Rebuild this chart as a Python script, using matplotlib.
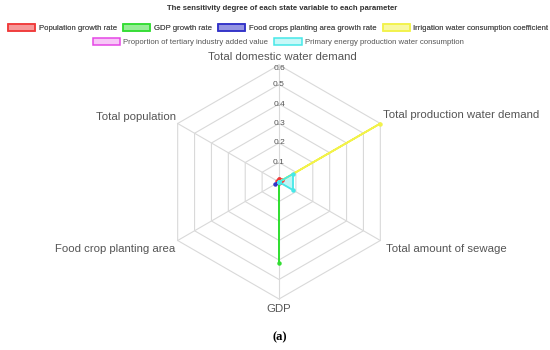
import numpy as np
import matplotlib
matplotlib.use("Agg")
import matplotlib.pyplot as plt
from matplotlib.patches import Patch

plt.rcParams['font.family'] = ['Liberation Sans', 'DejaVu Sans']

# indicators, clockwise from the top
indicators = ["Total domestic water demand", "Total production water demand",
              "Total amount of sewage", "GDP", "Food crop planting area",
              "Total population"]
r_max = 0.6
ticks = [0.1, 0.2, 0.3, 0.4, 0.5, 0.6]

series_names = ["Population growth rate", "GDP growth rate",
                "Food crops planting area growth rate",
                "Irrigation water consumption coefficient",
                "Proportion of tertiary industry added value",
                "Primary energy production water consumption"]
colors = ["#f03a3a", "#33dd33", "#3232c8", "#f2f24a", "#e546e5", "#46e8e8"]

pop_growth   = [0.015, 0.02, 0.005, 0.005, 0.005, 0.01]
gdp_growth   = [0.0, 0.0, 0.0, 0.415, 0.0, 0.0]
food_growth  = [0.0, 0.0, 0.0, 0.0, 0.025, 0.0]
irrigation   = [0.0, 0.6, 0.0, 0.0, 0.0, 0.0]
tertiary     = [0.0, 0.0, 0.0, 0.0, 0.0, 0.0]
energy_water = [0.0, 0.083, 0.083, 0.0, 0.0, 0.0]
series = [pop_growth, gdp_growth, food_growth, irrigation, tertiary, energy_water]

ang = np.deg2rad(90 - 60 * np.arange(len(indicators)))

fig = plt.figure(figsize=(5.5, 3.5), dpi=100)
ax = fig.add_axes([0, 0, 1, 1])
s = 117 / r_max  # px per unit
ax.set_xlim(-279 / s, 271 / s)
ax.set_ylim(-(350 - 182) / s, 182 / s)
ax.axis('off')

grid_c = "#d9d9d9"
# rings
for r in ticks:
    xs = np.append(r * np.cos(ang), r * np.cos(ang[0]))
    ys = np.append(r * np.sin(ang), r * np.sin(ang[0]))
    ax.plot(xs, ys, color=grid_c, lw=0.8, zorder=1)
# spokes
for a in ang:
    ax.plot([0, r_max * np.cos(a)], [0, r_max * np.sin(a)], color=grid_c, lw=0.8, zorder=1)

# tick labels on the top axis
for r in ticks:
    dy = -3 if r == r_max else 0
    ax.annotate("%.1f" % r, xy=(0, r), xytext=(0, dy), textcoords='offset pixels',
                ha='center', va='center', fontsize=6, color="#555555", zorder=2)

# indicator names
offs = [(3, 8, 'center'), (3, 8, 'left'), (6, -9, 'left'),
        (0, -10, 'center'), (-2, -8, 'right'), (-2, 6, 'right')]
for name, a, (dx, dy, ha) in zip(indicators, ang, offs):
    ax.annotate(name, xy=(r_max * np.cos(a), r_max * np.sin(a)), xytext=(dx, dy),
                textcoords='offset pixels', ha=ha, va='center', fontsize=8.2, color="#555555")

# series
for vals, c in zip(series, colors):
    v = np.array(vals)
    xs = np.append(v * np.cos(ang), v[0] * np.cos(ang[0]))
    ys = np.append(v * np.sin(ang), v[0] * np.sin(ang[0]))
    ax.fill(xs, ys, color=c, alpha=0.35, lw=0, zorder=3)
    ax.plot(xs, ys, color=c, lw=1.3, marker='o', ms=2.2, zorder=4)

# title and legend
fig.text(0.513, 1 - 8 / 350, "The sensitivity degree of each state variable to each parameter",
         ha='center', va='center', fontsize=5.6, fontweight='bold', color="#333333")
handles = [Patch(facecolor=matplotlib.colors.to_rgba(c, 0.3), edgecolor=c, lw=1.1) for c in colors]
kw = dict(frameon=False, fontsize=5.6, handlelength=3.5, handleheight=1.05,
          handletextpad=0.45, columnspacing=0.8, borderpad=0, borderaxespad=0, labelcolor="#555555")
leg1 = fig.legend(handles[:4], series_names[:4], ncol=4, loc='center',
                  bbox_to_anchor=(0.506, 1 - 28 / 350), **kw)
fig.legend(handles[4:], series_names[4:], ncol=2, loc='center',
           bbox_to_anchor=(0.506, 1 - 42 / 350), **kw)
fig.add_artist(leg1)

fig.text(0.508, 1 - 337 / 350, "(a)", ha='center', va='center', fontsize=9,
         fontweight='bold', family='Liberation Serif')

fig.savefig("out.png", dpi=100)
